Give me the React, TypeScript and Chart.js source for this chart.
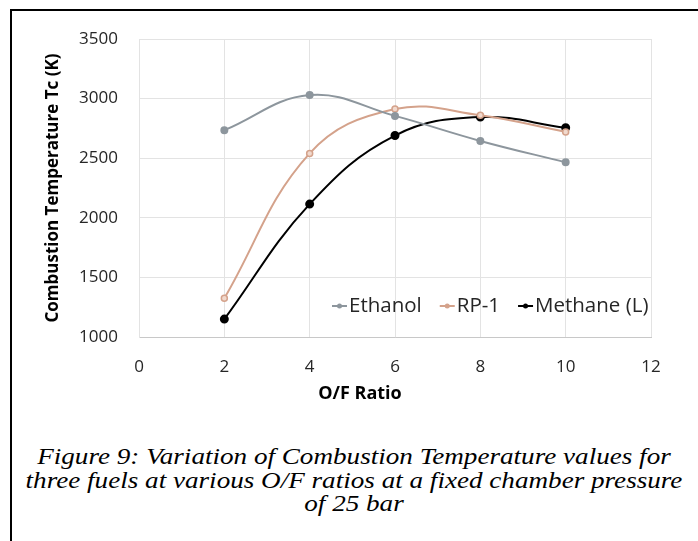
import React, { useEffect, useRef } from "react";
import { Chart, registerables } from "chart.js";

Chart.register(...registerables);

const ofRatios = [2, 4, 6, 8, 10];
const ethanolTc = [2735, 3030, 2855, 2645, 2465];
const rp1Tc = [1325, 2540, 2912, 2860, 2720];
const methaneTc = [1150, 2115, 2690, 2845, 2755];
const seriesNames = ["Ethanol", "RP-1", "Methane (L)"];
const seriesColors = ["#8d969d", "#d4a28b", "#000000"];
const yTitle = "Combustion Temperature Tc (K)";
const xTitle = "O/F Ratio";
const captionLines = [
  "Figure 9: Variation of Combustion Temperature values for",
  "three fuels at various O/F ratios at a fixed chamber pressure",
  "of 25 bar",
];

const FONT = "'Open Sans', 'Noto Sans', sans-serif";

const decorPlugin = {
  id: "decor",
  afterDraw(chart: any) {
    const ctx = chart.ctx as CanvasRenderingContext2D;
    const area = chart.chartArea;
    ctx.save();
    ctx.fillStyle = "#000000";
    ctx.font = `bold 17px ${FONT}`;
    ctx.textAlign = "center";
    ctx.textBaseline = "middle";
    ctx.translate(53, (area.top + area.bottom) / 2);
    ctx.rotate(-Math.PI / 2);
    ctx.fillText(yTitle, 0, 0);
    ctx.restore();

    ctx.save();
    ctx.fillStyle = "#000000";
    ctx.font = `bold 18px ${FONT}`;
    ctx.textAlign = "center";
    ctx.textBaseline = "middle";
    ctx.fillText(xTitle, 360, 394);
    ctx.restore();

    ctx.save();
    ctx.font = `20.5px ${FONT}`;
    ctx.textBaseline = "middle";
    ctx.textAlign = "left";
    let x = 332;
    const y = 306;
    chart.data.datasets.forEach((ds: any) => {
      ctx.strokeStyle = ds.borderColor;
      ctx.lineWidth = 2;
      ctx.beginPath();
      ctx.moveTo(x, y);
      ctx.lineTo(x + 15, y);
      ctx.stroke();
      ctx.fillStyle = ds.borderColor;
      ctx.beginPath();
      ctx.arc(x + 7.5, y, 2.5, 0, Math.PI * 2);
      ctx.fill();
      ctx.fillStyle = "#262626";
      ctx.fillText(ds.label, x + 17, y);
      x += 17 + ctx.measureText(ds.label).width + 18;
    });
    ctx.restore();
  },
};

export default function App() {
  const ref = useRef<HTMLCanvasElement>(null);
  useEffect(() => {
    if (!ref.current) return;
    const mk = (vals: number[]) => ofRatios.map((x, i) => ({ x, y: vals[i] }));
    const chart = new Chart(ref.current, {
      type: "line",
      data: {
        datasets: [
          {
            label: seriesNames[0],
            data: mk(ethanolTc),
            borderColor: seriesColors[0],
            backgroundColor: seriesColors[0],
            borderWidth: 2,
            pointRadius: 3,
            tension: 0.4,
          },
          {
            label: seriesNames[1],
            data: mk(rp1Tc),
            borderColor: seriesColors[1],
            backgroundColor: "#f1d9cd",
            borderWidth: 2,
            pointRadius: 3,
            pointBorderWidth: 1.5,
            tension: 0.4,
          },
          {
            label: seriesNames[2],
            data: mk(methaneTc),
            borderColor: seriesColors[2],
            backgroundColor: seriesColors[2],
            borderWidth: 2,
            pointRadius: 3.5,
            tension: 0.4,
          },
        ],
      },
      options: {
        animation: false,
        responsive: false,
        maintainAspectRatio: false,
        layout: { padding: { left: 0, top: 39, right: 47, bottom: 13 } },
        plugins: { legend: { display: false }, tooltip: { enabled: false } },
        scales: {
          x: {
            type: "linear",
            min: 0,
            max: 12,
            afterFit: (s: any) => {
              s.height = 80;
            },
            ticks: {
              stepSize: 2,
              padding: 20,
              color: "#262626",
              font: { family: FONT, size: 17 },
              callback: (v: any) => String(v),
            },
            grid: { color: "#e3e3e3", drawTicks: false, lineWidth: 1 },
            border: { color: "#c8c8c8", width: 1 },
          },
          y: {
            min: 1000,
            max: 3500,
            afterFit: (s: any) => {
              s.width = 139;
            },
            ticks: {
              stepSize: 500,
              padding: 21,
              color: "#262626",
              font: { family: FONT, size: 17 },
              callback: (v: any) => String(v),
            },
            grid: { color: "#e3e3e3", drawTicks: false, lineWidth: 1 },
            border: { color: "#e3e3e3", width: 1 },
          },
        },
      },
      plugins: [decorPlugin],
    });
    return () => chart.destroy();
  }, []);

  return (
    <div
      style={{
        position: "fixed",
        left: 0,
        top: 0,
        width: 698,
        height: 541,
        overflow: "hidden",
        background: "#ffffff",
      }}
    >
      <div
        style={{
          position: "absolute",
          left: 10,
          top: 9,
          width: 720,
          height: 560,
          borderLeft: "2px solid #000",
          borderTop: "2px solid #000",
          boxSizing: "border-box",
        }}
      />
      <canvas
        ref={ref}
        width={698}
        height={430}
        style={{ position: "absolute", left: 0, top: 0, width: 698, height: 430 }}
      />
      <div
        style={{
          position: "absolute",
          left: 0,
          width: 708,
          top: 445,
          textAlign: "center",
          fontFamily: "'Liberation Serif', 'Times New Roman', serif",
          fontStyle: "italic",
          fontSize: 24,
          lineHeight: "23.5px",
          color: "#000",
          transform: "scaleX(1.13)",
          transformOrigin: "354px 0",
          whiteSpace: "nowrap",
        }}
      >
        {captionLines.map((l, i) => (
          <div key={i}>{l}</div>
        ))}
      </div>
    </div>
  );
}
